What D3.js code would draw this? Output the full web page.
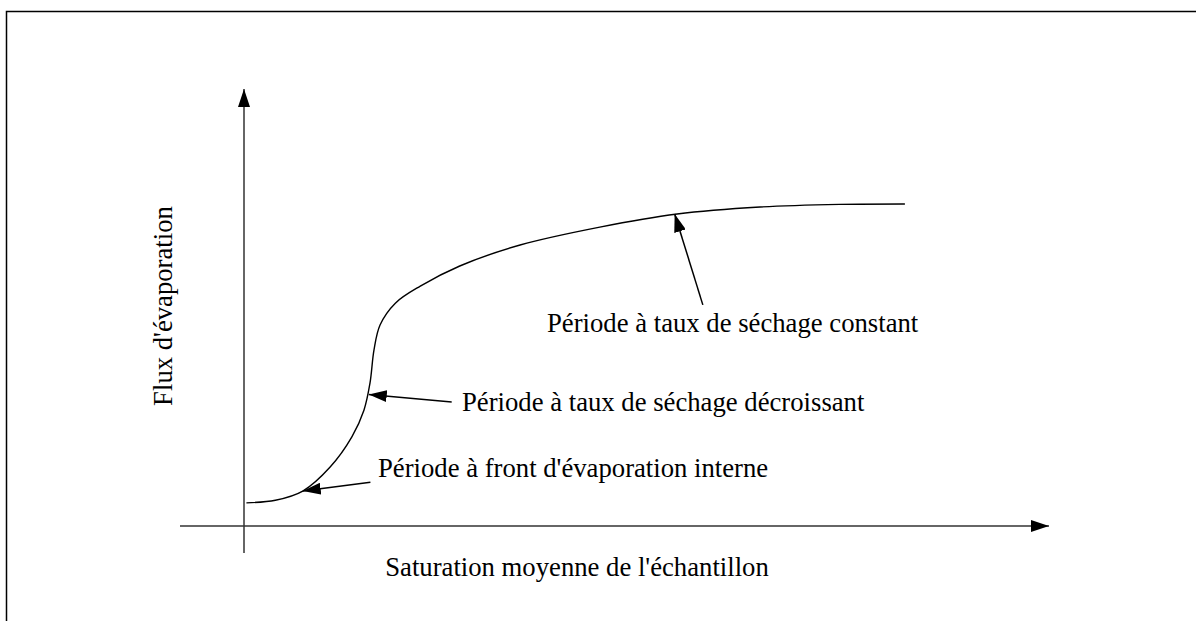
<!DOCTYPE html>
<html>
<head>
<meta charset="utf-8">
<script src="https://cdn.jsdelivr.net/npm/d3@7"></script>
<style>
  body { margin: 0; background: #fff; }
  svg text { font-family: "Liberation Serif", "Times New Roman", serif; fill: #000; }
</style>
</head>
<body>
<div id="chart"></div>
<script>
// DATA (saturation / evaporation flux, arbitrary units 0-100)
var satValues  = [0.3, 3.9, 7.3, 10.7, 13.4, 14.9, 15.65, 16.15, 16.9, 18.8, 21.9, 26.8, 34.3, 44.2, 53.8, 64.1, 74.0, 82.1];
var fluxValues = [5.3, 5.9, 8.0, 13.5, 20.4, 26.5, 32.7, 40.3, 46.0, 51.0, 54.9, 59.5, 64.3, 68.4, 71.4, 73.0, 73.6, 73.7];

var xTitle = "Saturation moyenne de l'échantillon";
var yTitle = "Flux d'évaporation";

var noteLabels = [
    "Période à taux de séchage constant",
    "Période à taux de séchage décroissant",
    "Période à front d'évaporation interne"
];
// arrow tip (on the curve) and arrow tail, in data units
var noteTips  = [[53.5, 71.4], [15.5, 30.1], [7.3, 8.0]];
var noteTails = [[57.0, 50.6], [25.8, 28.4], [15.7, 10.0]];

//SIZING
var W = 1196, H = 621;
var x = d3.scaleLinear().domain([0, 100]).range([244, 1049]);
var y = d3.scaleLinear().domain([0, 100]).range([526, 89]);

var svg = d3.select("#chart").append("svg")
    .attr("width", W)
    .attr("height", H);

// frame
svg.append("rect")
    .attr("x", 6.5).attr("y", 11.5)
    .attr("width", 1220).attr("height", 700)
    .attr("fill", "none")
    .attr("stroke", "#000")
    .attr("stroke-width", 1.5);

var defs = svg.append("defs");
defs.append("marker")
    .attr("id", "axisHead")
    .attr("viewBox", "0 0 18 12")
    .attr("refX", 18).attr("refY", 6)
    .attr("markerWidth", 18).attr("markerHeight", 12)
    .attr("markerUnits", "userSpaceOnUse")
    .attr("orient", "auto")
    .append("path").attr("d", "M0,0L18,6L0,12Z").attr("fill", "#000");
defs.append("marker")
    .attr("id", "noteHead")
    .attr("viewBox", "0 0 18 12")
    .attr("refX", 18).attr("refY", 6)
    .attr("markerWidth", 18).attr("markerHeight", 12)
    .attr("markerUnits", "userSpaceOnUse")
    .attr("orient", "auto")
    .append("path").attr("d", "M0,0L18,6L0,12Z").attr("fill", "#000");

// AXES
svg.append("line")
    .attr("x1", 180).attr("x2", x(100))
    .attr("y1", y(0)).attr("y2", y(0))
    .attr("stroke", "#333").attr("stroke-width", 1.5)
    .attr("marker-end", "url(#axisHead)");
svg.append("line")
    .attr("x1", x(0)).attr("x2", x(0))
    .attr("y1", 553).attr("y2", y(100))
    .attr("stroke", "#333").attr("stroke-width", 1.5)
    .attr("marker-end", "url(#axisHead)");

// CURVE
var pts = satValues.map(function (d, i) { return [d, fluxValues[i]]; });
var line = d3.line()
    .x(function (d) { return x(d[0]); })
    .y(function (d) { return y(d[1]); })
    .curve(d3.curveCatmullRom.alpha(0.5));
svg.append("path")
    .datum(pts)
    .attr("d", line)
    .attr("fill", "none")
    .attr("stroke", "#000")
    .attr("stroke-width", 1.4);

// ANNOTATIONS
var textPos = [[547, 332], [462, 411], [378, 477]];
noteLabels.forEach(function (lab, i) {
    svg.append("line")
        .attr("x1", x(noteTails[i][0])).attr("y1", y(noteTails[i][1]))
        .attr("x2", x(noteTips[i][0])).attr("y2", y(noteTips[i][1]))
        .attr("stroke", "#000").attr("stroke-width", 1.5)
        .attr("marker-end", "url(#noteHead)");
    svg.append("text")
        .attr("x", textPos[i][0]).attr("y", textPos[i][1])
        .style("font-size", "26.7px")
        .text(lab);
});

// TITLES
svg.append("text")
    .attr("x", 577).attr("y", 576)
    .attr("text-anchor", "middle")
    .style("font-size", "26.7px")
    .text(xTitle);
svg.append("text")
    .attr("transform", "translate(172,306) rotate(-90)")
    .attr("text-anchor", "middle")
    .style("font-size", "26.7px")
    .text(yTitle);
</script>
</body>
</html>
